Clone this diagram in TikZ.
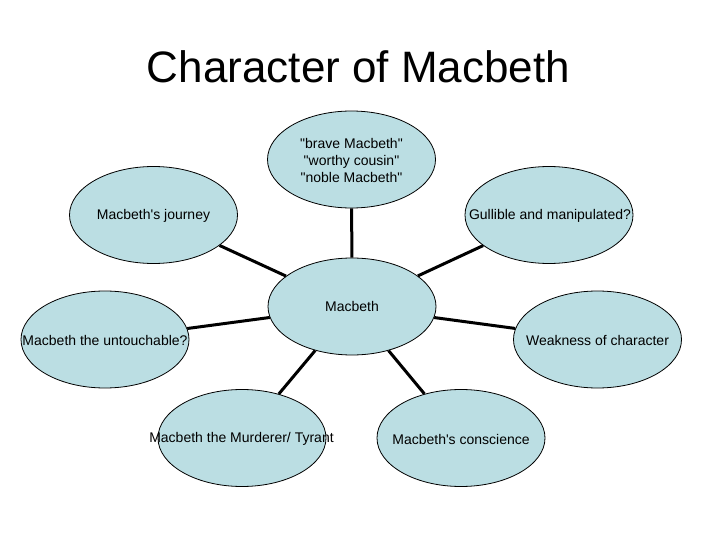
\documentclass[tikz,border=0pt]{standalone}
\usepackage{fontspec}
\newfontfamily\arialfont{Liberation Sans}
\usetikzlibrary{shapes.geometric}
\definecolor{bubble}{RGB}{187,222,227}
\tikzset{
  ell/.style={ellipse, draw=black, line width=0.8pt, fill=bubble, minimum width=168pt, minimum height=97pt, inner sep=0pt},
  txt/.style={font=\arialfont\fontsize{14}{17}\selectfont, align=center, inner sep=0pt, text=black},
  conn/.style={line width=3pt, black}
}
\begin{document}
\begin{tikzpicture}[x=1pt,y=-1pt]
\useasboundingbox (0,0) rectangle (720,540);
\node[font=\arialfont\fontsize{44}{50}\selectfont, anchor=base] (title) at (358.5,83) {Character of Macbeth};

\node[ell] (top) at (351.5,159.5) {};
\node[ell] (mid) at (352,306.5) {};
\node[ell] (jour) at (153.5,215) {};
\node[ell] (gull) at (549,215) {};
\node[ell] (unt) at (105,339.5) {};
\node[ell] (weak) at (597.5,339.5) {};
\node[ell] (murd) at (242,438) {};
\node[ell] (cons) at (461,438) {};

\draw[conn] (mid) -- (top);
\draw[conn] (mid) -- (jour);
\draw[conn] (mid) -- (gull);
\draw[conn] (mid) -- (unt);
\draw[conn] (mid) -- (weak);
\draw[conn] (mid) -- (murd);
\draw[conn] (mid) -- (cons);

\node[txt] (top-t) at (351.5,160) {"brave Macbeth"\\ "worthy cousin"\\ "noble Macbeth"};
\node[txt] (mid-t) at (352,306) {Macbeth};
\node[txt] (jour-t) at (153.5,216) {Macbeth's journey};
\node[txt] (gull-t) at (550,216) {Gullible and manipulated?};
\node[txt] (unt-t) at (105,340) {Macbeth the untouchable?};
\node[txt] (weak-t) at (597.5,340) {Weakness of character};
\node[txt] (murd-t) at (241.5,439) {Macbeth the Murderer/ Tyrant};
\node[txt] (cons-t) at (461,439) {Macbeth's conscience};
\end{tikzpicture}
\end{document}
